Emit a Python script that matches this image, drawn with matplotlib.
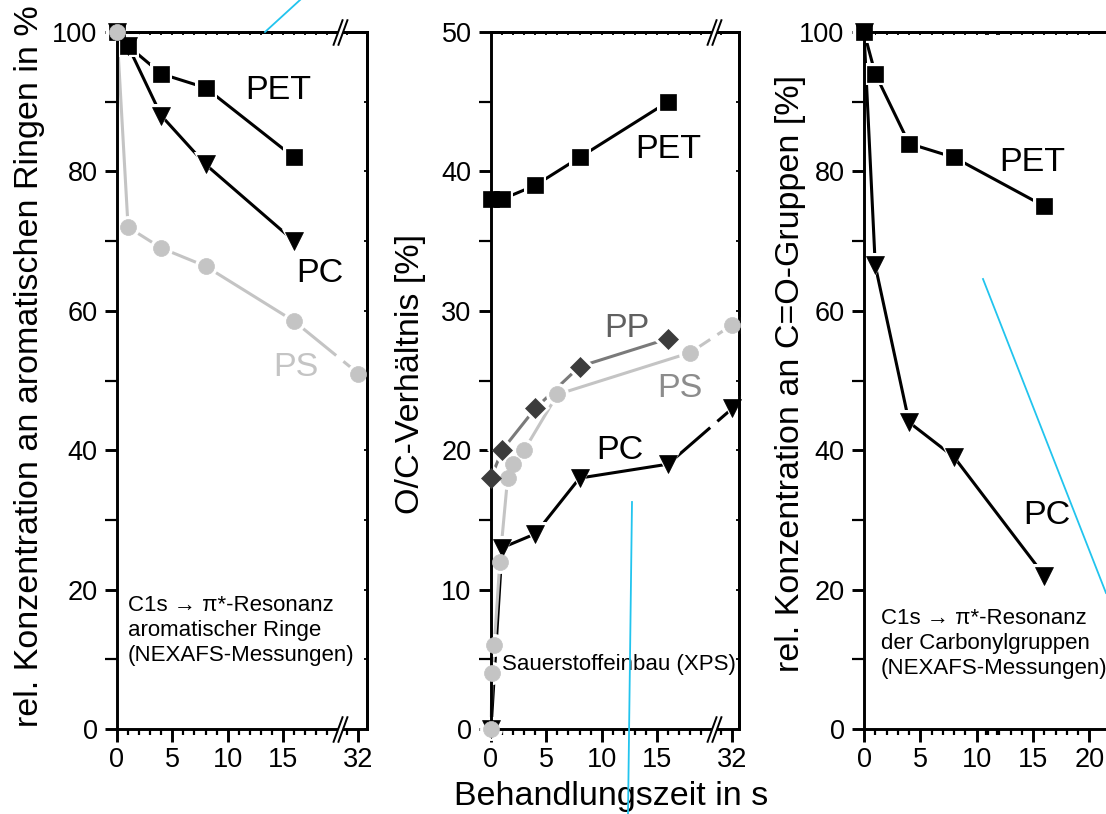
import numpy as np
import matplotlib
matplotlib.use("Agg")
import matplotlib.pyplot as plt
from matplotlib.path import Path
from matplotlib.lines import Line2D
from matplotlib.transforms import blended_transform_factory

plt.rcParams["font.family"] = ["Liberation Sans", "DejaVu Sans"]

# ---------------- data ----------------
# aromatic rings (NEXAFS), relative concentration in %
t_arom = [0, 1, 4, 8, 16]
arom_pet = [100, 98, 94, 92, 82]
arom_pc = [100, 98, 88, 81, 70]
t_arom_ps = [0, 1, 4, 8, 16, 32]
arom_ps = [100, 72, 69, 66.4, 58.5, 51]

# O/C ratio (XPS) in %
t_oc_pet = [0, 1, 4, 8, 16]
oc_pet = [38, 38, 39, 41, 45]
t_oc_pp = [0, 1, 4, 8, 16]
oc_pp = [18, 20, 23, 26, 28]
t_oc_ps = [0, 0.1, 0.3, 0.8, 1.5, 2, 3, 6, 18, 32]
oc_ps = [0, 4, 6, 12, 18, 19, 20, 24, 27, 29]
t_oc_pc = [0, 1, 4, 8, 16, 32]
oc_pc = [0, 13, 14, 18, 19, 23]

# C=O groups (NEXAFS), relative concentration in %
t_co = [0, 1, 4, 8, 16]
co_pet = [100, 94, 84, 82, 75]
co_pc = [100, 66.5, 44, 39, 22]

xticks_broken = [0, 5, 10, 15, 32]
xticks_plain = [0, 5, 10, 15, 20]

# ---------------- styling ----------------
BIG = 24.5
TICK = 19.5
NOTE = 16
W, H = 1106, 814
BRK = 20.1          # position of the axis break
SHIFT = 10.2        # times beyond the break are moved left by this amount
LW = 2.2
BLACK = "black"
PS_GRAY = "#c4c4c4"
PP_DARK = "#3c3c3c"
PP_LINE = "#7a7a7a"


def bx(t):
    t = np.asarray(t, dtype=float)
    return np.where(t > BRK, t - SHIFT, t)


def px_axes(left, right, top=32, bottom=729):
    return [left / W, (H - bottom) / H, (right - left) / W, (bottom - top) / H]


fig = plt.figure(figsize=(W / 100, H / 100), dpi=100)


def broken_line(x, y, gap=(0.3, 0.35)):
    xs, ys = [], []
    for i in range(len(x)):
        if i > 0 and x[i - 1] < BRK < x[i]:
            x0, x1, y0, y1 = x[i - 1], x[i], y[i - 1], y[i]
            xa, xb = BRK - gap[0], BRK + gap[1]
            ya = y0 + (y1 - y0) * (xa - x0) / (x1 - x0)
            yb = y0 + (y1 - y0) * (xb - x0) / (x1 - x0)
            xs += [xa, np.nan, xb]
            ys += [ya, np.nan, yb]
        xs.append(x[i])
        ys.append(y[i])
    return np.array(xs), np.array(ys)


def series(ax, t, y, marker, ms, mcolor, lcolor, z):
    x = bx(t)
    y = np.asarray(y, dtype=float)
    lx, ly = broken_line(x, y)
    ax.plot(lx, ly, color=lcolor, lw=LW, zorder=2.0, clip_on=False,
            solid_capstyle="butt")
    ax.plot(x, y, ls="none", marker=marker, ms=ms + 5, mfc="white",
            mec="white", mew=0, zorder=2.4, clip_on=False)
    ax.plot(x, y, ls="none", marker=marker, ms=ms, mfc=mcolor, mec=mcolor,
            mew=0.5, zorder=3 + z, clip_on=False)


SLASH_FILL = Path([(-0.55, -1), (-0.18, -1), (0.55, 1), (0.18, 1), (-0.55, -1)],
                  [Path.MOVETO, Path.LINETO, Path.LINETO, Path.LINETO, Path.CLOSEPOLY])
SLASH_LINES = Path([(-0.55, -1), (0.18, 1), (-0.18, -1), (0.55, 1)],
                   [Path.MOVETO, Path.LINETO, Path.MOVETO, Path.LINETO])


def break_marks(ax):
    tr = blended_transform_factory(ax.transData, ax.transAxes)
    for yy in (0, 1):
        ax.plot([BRK], [yy], transform=tr, marker=SLASH_FILL, ms=19,
                mfc="white", mec="white", mew=0, ls="none",
                clip_on=False, zorder=20)
        ax.plot([BRK], [yy], transform=tr, marker=SLASH_LINES, ms=19,
                mfc="none", mec="black", mew=1.4, ls="none",
                clip_on=False, zorder=21)


def frame(ax, xmax, ymax, ystep, xtick_vals, minor_x, top_x, broken):
    ax.set_xlim(0, xmax)
    ax.set_ylim(0, ymax)
    for s in ax.spines.values():
        s.set_linewidth(2.1)
    ax.set_xticks(bx(xtick_vals), labels=[str(v) for v in xtick_vals])
    ax.set_xticks(bx(minor_x), minor=True)
    ax.set_yticks(np.arange(0, ymax + 0.1, ystep))
    ax.set_yticks(np.arange(ystep / 2, ymax, ystep), minor=True)
    ax.tick_params(which="major", direction="out", length=9, width=2.1,
                   labelsize=TICK, pad=4)
    ax.tick_params(axis="y", which="major", pad=5)
    ax.tick_params(axis="x", which="minor", direction="out", length=4.5, width=1.6)
    ax.tick_params(axis="y", which="minor", direction="out", length=8.5, width=1.6)
    top = ax.secondary_xaxis("top")
    top.set_xticks(bx(top_x), labels=[])
    top.tick_params(direction="in", length=2.5, width=1.3)
    top.spines["top"].set_linewidth(2.1)
    if broken:
        right = ax.secondary_yaxis("right")
        right.set_yticks(np.arange(0, ymax + 0.1, ystep / 2), labels=[])
        right.tick_params(direction="in", length=2.5, width=1.3)
        right.spines["right"].set_linewidth(2.1)
        break_marks(ax)


minor_broken = [v for v in range(1, 20) if v % 5] + [31]
top_broken = [v for v in range(1, 20)] + [31]

MS_SQ, MS_TRI, MS_CIR, MS_DIA = 11, 12.5, 11.5, 10

# ---------- panel 1: aromatic rings ----------
ax1 = fig.add_axes(px_axes(117, 367))
frame(ax1, 250 / 11.07, 100, 20, xticks_broken, minor_broken, top_broken, True)
series(ax1, t_arom, arom_pet, "s", MS_SQ, BLACK, BLACK, 0)
series(ax1, t_arom, arom_pc, "v", MS_TRI, BLACK, BLACK, 1)
series(ax1, t_arom_ps, arom_ps, "o", MS_CIR, PS_GRAY, PS_GRAY, 2)
ax1.text(14.6, 91.6, "PET", fontsize=BIG, ha="center", va="center")
ax1.text(18.3, 65.4, "PC", fontsize=BIG, ha="center", va="center")
ax1.text(16.2, 51.8, "PS", fontsize=BIG, ha="center", va="center", color=PS_GRAY)
ax1.text(1.0, 19.2, "C1s \u2192 \u03c0*-Resonanz\naromatischer Ringe\n(NEXAFS-Messungen)",
         fontsize=NOTE, ha="left", va="top", linespacing=1.25)

# ---------- panel 2: O/C ratio ----------
ax2 = fig.add_axes(px_axes(491, 739))
frame(ax2, 248 / 11.07, 50, 10, xticks_broken, minor_broken, top_broken, True)
series(ax2, t_oc_pc, oc_pc, "v", MS_TRI, BLACK, BLACK, 0)
series(ax2, t_oc_ps, oc_ps, "o", MS_CIR, PS_GRAY, PS_GRAY, 1)
series(ax2, t_oc_pp, oc_pp, "D", MS_DIA, PP_DARK, PP_LINE, 2)
series(ax2, t_oc_pet, oc_pet, "s", MS_SQ, BLACK, BLACK, 3)
ax2.text(16.0, 41.6, "PET", fontsize=BIG, ha="center", va="center")
ax2.text(12.3, 28.7, "PP", fontsize=BIG, ha="center", va="center", color="#606060")
ax2.text(17.1, 24.4, "PS", fontsize=BIG, ha="center", va="center", color="#8c8c8c")
ax2.text(11.65, 20.0, "PC", fontsize=BIG, ha="center", va="center")
ax2.text(1.0, 4.6, "Sauerstoffeinbau (XPS)", fontsize=NOTE, ha="left", va="center")

# ---------- panel 3: C=O groups ----------
SC3 = 11.27
ax3 = fig.add_axes(px_axes(864, 864 + 22.5 * SC3))
frame(ax3, 22.5, 100, 20, xticks_plain,
      [v for v in range(1, 23) if v % 5], list(range(1, 23)), False)
series(ax3, t_co, co_pc, "v", MS_TRI, BLACK, BLACK, 0)
series(ax3, t_co, co_pet, "s", MS_SQ, BLACK, BLACK, 1)
ax3.text(14.96, 81.3, "PET", fontsize=BIG, ha="center", va="center")
ax3.text(16.2, 30.7, "PC", fontsize=BIG, ha="center", va="center")
ax3.text(1.5, 17.3, "C1s \u2192 \u03c0*-Resonanz\nder Carbonylgruppen\n(NEXAFS-Messungen)",
         fontsize=NOTE, ha="left", va="top", linespacing=1.25)

# ---------- axis titles ----------
fig.text(30 / W, 1 - 366 / H, "rel. Konzentration an aromatischen Ringen in %",
         rotation=90, fontsize=BIG, ha="center", va="center")
fig.text(411 / W, 1 - 374 / H, "O/C-Verhältnis [%]",
         rotation=90, fontsize=BIG, ha="center", va="center")
fig.text(790 / W, 1 - 373 / H, "rel. Konzentration an C=O-Gruppen [%]",
         rotation=90, fontsize=BIG, ha="center", va="center")
fig.text(611 / W, 1 - 796 / H, "Behandlungszeit in s",
         fontsize=BIG, ha="center", va="center")

# ---------- thin cyan guide strokes ----------
guides = [((300, 0), (265, 32)), ((632, 502), (628, 814)), ((983, 279), (1106, 593))]
for (xa, ya), (xb, yb) in guides:
    fig.add_artist(Line2D([xa / W, xb / W], [1 - ya / H, 1 - yb / H],
                          transform=fig.transFigure, color="#22c4ee", lw=1.3,
                          zorder=30))

fig.savefig("out.png", dpi=100)
